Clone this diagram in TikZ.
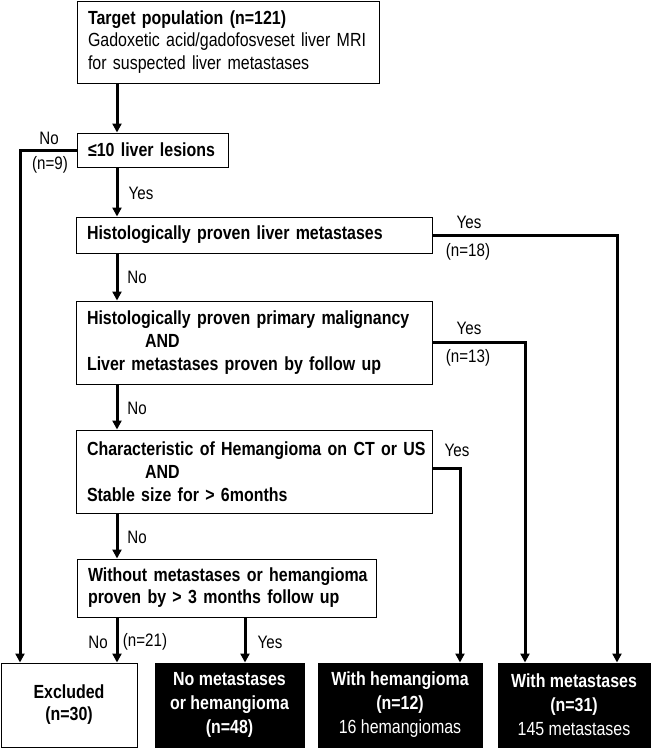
\documentclass[tikz,border=0pt]{standalone}
\usepackage{fontspec}
\setmainfont{Liberation Sans}[FakeStretch=0.84]
\usetikzlibrary{arrows.meta}
\newcommand{\oneline}[1]{\mbox{#1}}
\begin{document}
\begin{tikzpicture}[x=1pt,y=-1pt,
  box/.style={draw=black, line width=1pt, inner xsep=11pt, inner ysep=0pt, align=left,
    font=\fontsize{19}{23}\selectfont},
  endbox/.style={draw=black, line width=1pt, fill=black, text=white, align=center,
    font=\fontsize{19}{24}\selectfont\bfseries, inner sep=0pt, minimum height=84pt},
  conn/.style={line width=3pt, -{Triangle[length=9pt,width=9pt]}},
  lbl/.style={font=\fontsize{18}{20}\selectfont, inner sep=0pt}]
\useasboundingbox (0,0) rectangle (651,748);

% boxes
\node[box, text width=280pt, minimum height=82pt, font=\fontsize{19}{22.5}\selectfont] (t) at (228,42)
  {\oneline{\textbf{Target population (n=121)}}\\\oneline{Gadoxetic acid/gadofosveset liver MRI}\\\oneline{for suspected liver metastases}};
\node[box, text width=129pt, minimum height=34pt] (b2) at (152.5,150)
  {\oneline{\textbf{≤10 liver lesions}}};
\node[box, text width=334pt, minimum height=36pt] (b3) at (254,235)
  {\oneline{\textbf{Histologically proven liver metastases}}};
\node[box, text width=334pt, minimum height=83pt, font=\fontsize{19}{23}\selectfont\bfseries] (b4) at (254,342.5)
  {\oneline{Histologically proven primary malignancy}\\\hspace*{58pt}AND\\\oneline{Liver metastases proven by follow up}};
\node[box, text width=334pt, minimum height=83pt, font=\fontsize{19}{23}\selectfont\bfseries] (b5) at (254,471.5)
  {\oneline{Characteristic of Hemangioma on CT or US}\\\hspace*{58pt}AND\\\oneline{Stable size for > 6months}};
\node[box, text width=277pt, minimum height=58pt, font=\fontsize{19}{22}\selectfont\bfseries] (b6) at (226.5,588)
  {\oneline{Without metastases or hemangioma}\\\oneline{proven by > 3 months follow up}};

% end boxes
\node[endbox, fill=white, text=black, minimum width=136pt, font=\fontsize{19}{22}\selectfont\bfseries] (excl) at (69,705)
  {Excluded\\(n=30)};
\node[endbox, minimum width=149pt] (nomet) at (229.5,705)
  {No metastases\\or hemangioma\\(n=48)};
\node[endbox, minimum width=164pt] (hem) at (400,705)
  {With hemangioma\\(n=12)\\\mdseries 16 hemangiomas};
\node[endbox, minimum width=152pt] (met) at (574,705)
  {With metastases\\(n=31)\\\mdseries 145 metastases};

% guide coordinates
\coordinate (mx) at (117,0);
\coordinate (lx) at (20,0);
\coordinate (yx) at (245,0);
\coordinate (r1) at (617,0);
\coordinate (r2) at (525,0);
\coordinate (r3) at (460,0);

% connectors
\draw[conn] (t.south -| mx) -- (b2.north -| mx);
\draw[conn] (b2.west) -| (lx |- excl.north);
\draw[conn] (b2.south -| mx) -- (b3.north -| mx);
\draw[conn] (b3.east) -| (r1 |- met.north);
\draw[conn] (b3.south -| mx) -- (b4.north -| mx);
\draw[conn] (b4.east) -| (r2 |- met.north);
\draw[conn] (b4.south -| mx) -- (b5.north -| mx);
\draw[conn] ([yshift=3.5pt]b5.east) -| (r3 |- hem.north);
\draw[conn] (b5.south -| mx) -- (b6.north -| mx);
\draw[conn] (b6.south -| mx) -- (excl.north -| mx);
\draw[conn] (b6.south -| yx) -- (nomet.north -| yx);

% labels
\node[lbl] (l1) at (49,138) {No};
\node[lbl] (l2) at (50,165) {(n=9)};
\node[lbl] (l3) at (141,193) {Yes};
\node[lbl] (l4) at (469,222) {Yes};
\node[lbl] (l5) at (468,252) {(n=18)};
\node[lbl] (l6) at (137,277) {No};
\node[lbl] (l7) at (469,328) {Yes};
\node[lbl] (l8) at (468,358) {(n=13)};
\node[lbl] (l9) at (137,408) {No};
\node[lbl] (l10) at (457,450) {Yes};
\node[lbl] (l11) at (137,537) {No};
\node[lbl] (l12) at (98,642) {No};
\node[lbl] (l13) at (145,642) {(n=21)};
\node[lbl] (l14) at (270,642) {Yes};
\end{tikzpicture}
\end{document}
